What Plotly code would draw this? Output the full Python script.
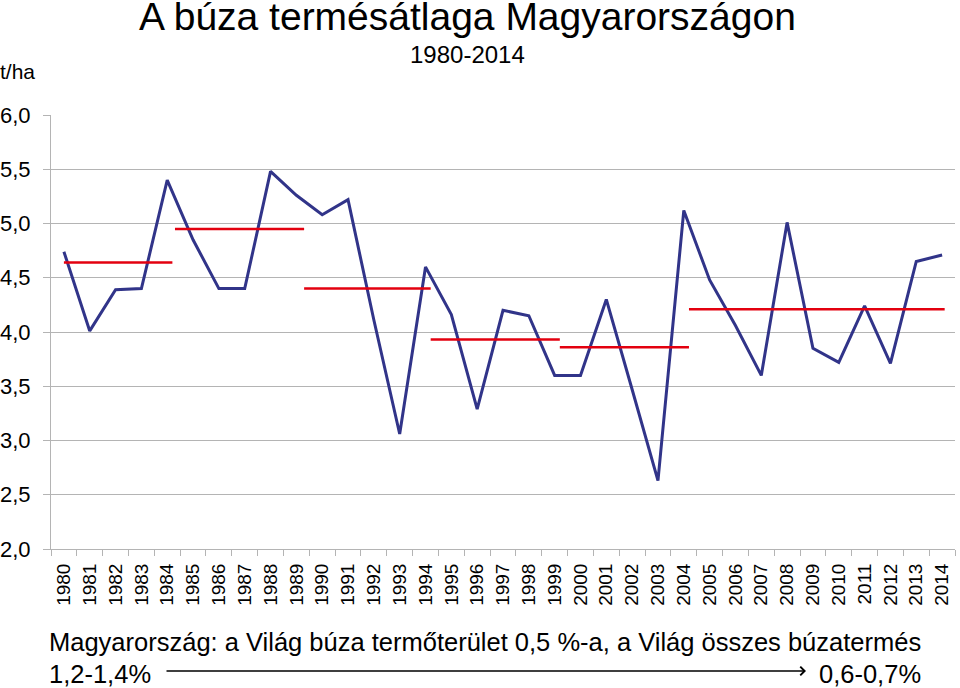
import plotly.graph_objects as go

# évek és termésátlag (t/ha)
years = list(range(1980, 2015))
yields = [4.74, 4.01, 4.39, 4.40, 5.40, 4.85, 4.40, 4.40, 5.48, 5.26,
          5.08, 5.22, 4.11, 3.06, 4.60, 4.16, 3.29, 4.20, 4.15, 3.60,
          3.60, 4.30, 3.47, 2.63, 5.12, 4.48, 4.06, 3.60, 5.01, 3.85,
          3.72, 4.24, 3.71, 4.65, 4.71]

# időszaki átlagok (piros vonalak)
avg_start = [1980, 1984.3, 1989.3, 1994.2, 1999.2, 2004.2]
avg_end = [1984.2, 1989.3, 1994.2, 1999.2, 2004.2, 2014.1]
avg_value = [4.64, 4.95, 4.40, 3.93, 3.86, 4.21]

FONT = "Liberation Sans, Arial, sans-serif"
GRID = "#b4b4b4"

fig = go.Figure()

fig.add_trace(go.Scatter(
    x=years, y=yields, mode="lines",
    line=dict(color="#313489", width=3),
    showlegend=False, hoverinfo="x+y"))

for s, e, v in zip(avg_start, avg_end, avg_value):
    fig.add_trace(go.Scatter(
        x=[s, e], y=[v, v], mode="lines",
        line=dict(color="#e3000f", width=2.5),
        showlegend=False, hoverinfo="y"))

fig.update_layout(
    width=960, height=688,
    margin=dict(l=51, r=5, t=115, b=139),
    paper_bgcolor="white", plot_bgcolor="white",
    separators=", ",
    font=dict(family=FONT, color="black"),
    xaxis=dict(
        range=[1979.5, 2014.5], automargin=False,
        tickmode="array", tickvals=years, ticktext=[str(y) for y in years],
        tickangle=-90, tickfont=dict(size=19), ticklabelstandoff=6,
        ticks="", showgrid=False, zeroline=False,
        showline=True, linecolor=GRID, linewidth=1,
        minor=dict(ticks="outside", tick0=1979.5, dtick=1, ticklen=6,
                   tickcolor=GRID, showgrid=False),
        fixedrange=True,
    ),
    yaxis=dict(
        range=[2.0, 6.0], dtick=0.5, tickformat=".1f", automargin=False,
        tickfont=dict(size=22), ticklabelstandoff=8,
        showgrid=True, gridcolor=GRID, gridwidth=1,
        ticks="outside", ticklen=7, tickcolor=GRID,
        showline=True, linecolor=GRID, linewidth=1,
        zeroline=False, fixedrange=True,
    ),
)


def px_x(px):
    return (px - 51) / 904


def px_y(py):
    return (549 - py) / 434


def label(text, x, y, size, anchor="center"):
    fig.add_annotation(text=text, xref="paper", yref="paper",
                       x=px_x(x), y=px_y(y), xanchor=anchor, yanchor="middle",
                       showarrow=False, font=dict(size=size))


label("A búza termésátlaga Magyarországon", 467, 17, 39)
label("1980-2014", 467, 55, 24)
label("t/ha", -2, 71, 21, "left")
label("Magyarország: a Világ búza termőterület 0,5 %-a, a Világ összes búzatermés", 47, 642, 25.5, "left")
label("1,2-1,4%", 47, 674, 25.5, "left")
label("0,6-0,7%", 923, 674, 25.5, "right")

# nyíl
fig.add_annotation(text="", xref="paper", yref="paper",
                   x=px_x(806), y=px_y(671), ax=-641, ay=0,
                   axref="pixel", ayref="pixel", showarrow=True,
                   arrowhead=4, arrowsize=1.3, arrowwidth=1.3, arrowcolor="black")

fig.write_html("out.html", config={"displayModeBar": False},
               post_script="document.body.style.margin='0px';")
